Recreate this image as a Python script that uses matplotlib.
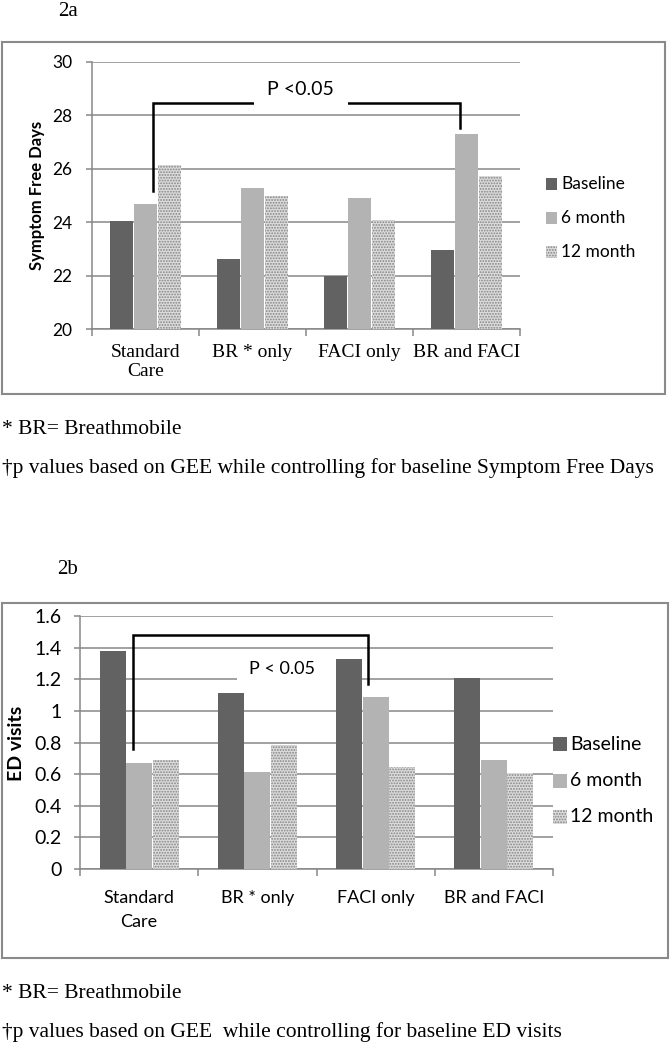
import matplotlib
matplotlib.use("Agg")
import matplotlib.pyplot as plt
from matplotlib.patches import Rectangle
import numpy as np

# ---------------- data ----------------
categories_a = ["Standard\nCare", "BR * only", "FACI only", "BR and FACI"]
categories_b = ["Standard\nCare", "BR * only", "FACI only", "BR and FACI"]
series_names = ["Baseline", "6 month", "12 month"]

sfd_baseline = [24.05, 22.61, 22.00, 22.97]
sfd_6month = [24.67, 25.29, 24.89, 27.31]
sfd_12month = [26.14, 24.99, 24.10, 25.73]

ed_baseline = [1.38, 1.115, 1.33, 1.21]
ed_6month = [0.672, 0.613, 1.09, 0.69]
ed_12month = [0.69, 0.782, 0.643, 0.605]

yticks_a = [20, 22, 24, 26, 28, 30]
yticks_b = [0, 0.2, 0.4, 0.6, 0.8, 1, 1.2, 1.4, 1.6]
ytick_labels_b = ["0", "0.2", "0.4", "0.6", "0.8", "1", "1.2", "1.4", "1.6"]

sig_text_a = "P <0.05"
sig_text_b = "P < 0.05"
footnote1 = "* BR= Breathmobile"
footnote2_a = "\u2020p values based on GEE while controlling for baseline Symptom Free Days"
footnote2_b = "\u2020p values based on GEE  while controlling for baseline ED visits"

# ---------------- styling ----------------
W, H = 671, 1050
fig = plt.figure(figsize=(W / 100, H / 100), dpi=100)
plt.rcParams["hatch.linewidth"] = 0.9

GRID = "#878787"
C_BASE = "#626262"
C_6M = "#b3b3b3"
SANS = ["Lato", "DejaVu Sans"]
SERIF = ["Liberation Serif", "DejaVu Serif"]

styles = [
    dict(color=C_BASE, edgecolor=C_BASE, linewidth=0),
    dict(color=C_6M, edgecolor=C_6M, linewidth=0),
    dict(facecolor="#dcdcdc", edgecolor="#858585", hatch="......", linewidth=0),
]


def fx(px):
    return px / W


def fy(py):
    return 1 - py / H


def make_axes(l, r, t, b):
    return fig.add_axes([fx(l), fy(b), fx(r) - fx(l), fy(t) - fy(b)])


def draw_panel(ax, series, cats, ylim, yticks, ytl, xfont, xsize, xls, ysize,
               ypad, xpad):
    x = np.arange(len(cats))
    width = 0.22
    offsets = [-0.225, 0.0, 0.225]
    for vals, off, st in zip(series, offsets, styles):
        ax.bar(x + off, np.array(vals) - ylim[0], width, bottom=ylim[0],
               zorder=3, **st)
    ax.set_xlim(-0.5, len(cats) - 0.5)
    ax.set_ylim(*ylim)
    ax.set_yticks(yticks)
    ax.set_yticklabels(ytl, fontsize=ysize, family=SANS)
    ax.yaxis.grid(True, color=GRID, linewidth=1.1, zorder=0)
    ax.set_axisbelow(True)
    for s in ["top", "right"]:
        ax.spines[s].set_visible(False)
    for s in ["left", "bottom"]:
        ax.spines[s].set_color(GRID)
        ax.spines[s].set_linewidth(1.1)
    ax.set_xticks(np.arange(-0.5, len(cats)))
    ax.set_xticklabels([])
    ax.set_xticks(x, minor=True)
    ax.set_xticklabels(cats, minor=True, fontsize=xsize, family=xfont,
                       linespacing=xls, va="top")
    ax.tick_params(axis="x", which="major", length=5, color=GRID, width=1.1)
    ax.tick_params(axis="x", which="minor", length=0, pad=xpad)
    ax.tick_params(axis="y", length=4, color=GRID, width=1.1, pad=ypad)


def bracket(ax, xl, yl, xr, yr, ytop, lw=1.8):
    ax.plot([xl, xl, xr, xr], [yl, ytop, ytop, yr], color="black",
            linewidth=lw, zorder=5, solid_joinstyle="miter")


# ---------------- frames ----------------
fig.add_artist(Rectangle((fx(2), fy(394)), fx(665) - fx(2), fy(42) - fy(394),
                         transform=fig.transFigure, fill=False,
                         edgecolor="#8a8a8a", linewidth=1.5))
fig.add_artist(Rectangle((fx(2), fy(958)), fx(668) - fx(2), fy(603) - fy(958),
                         transform=fig.transFigure, fill=False,
                         edgecolor="#8a8a8a", linewidth=1.5))

# ---------------- panel 2a ----------------
ax1 = make_axes(92, 520, 62, 329)
draw_panel(ax1, [sfd_baseline, sfd_6month, sfd_12month], categories_a,
           (20, 30), yticks_a, [str(v) for v in yticks_a], SERIF, 14, 1.1,
           12.5, 10, 11)
bracket(ax1, 0.066, 25.18, 2.937, 27.52, 28.48)
ax1.add_patch(Rectangle((1.016, 28.25), 0.874, 1.5, facecolor="white",
                        edgecolor="none", zorder=6))
ax1.text(1.446, 28.98, sig_text_a, ha="center", va="center", fontsize=14,
         family=SANS, zorder=7)
fig.text(fx(37), fy(195), "Symptom Free Days", rotation=90, ha="center",
         va="center", fontsize=12, fontweight="bold", family=SANS)
fig.text(fx(68), fy(12), "2a", ha="center", va="center", fontsize=15,
         family=SERIF)

# legend a
for i, (name, st) in enumerate(zip(series_names, styles)):
    yc = 184 + 34 * i
    fig.add_artist(Rectangle((fx(546), fy(yc + 5.5)), fx(11), 11 / H,
                             transform=fig.transFigure, **st))
    fig.text(fx(561), fy(yc), name, ha="left", va="center", fontsize=12.5,
             family=SANS)

fig.text(fx(2), fy(430), footnote1, ha="left", va="center", fontsize=15.5,
         family=SERIF)
fig.text(fx(2), fy(468), footnote2_a, ha="left", va="center", fontsize=15.5,
         family=SERIF)

# ---------------- panel 2b ----------------
ax2 = make_axes(80, 553, 616, 869)
draw_panel(ax2, [ed_baseline, ed_6month, ed_12month], categories_b,
           (0, 1.6), yticks_b, ytick_labels_b, SANS, 13, 1.6, 14, 9, 15)
bracket(ax2, -0.055, 0.762, 1.932, 1.17, 1.48)
ax2.add_patch(Rectangle((0.83, 1.15), 0.88, 0.2, facecolor="white",
                        edgecolor="none", zorder=2.5))
ax2.text(1.205, 1.267, sig_text_b, ha="center", va="center", fontsize=13,
         family=SANS, zorder=7)
fig.text(fx(17), fy(743), "ED visits", rotation=90, ha="center",
         va="center", fontsize=14, fontweight="bold", family=SANS)
fig.text(fx(68), fy(570), "2b", ha="center", va="center", fontsize=15,
         family=SERIF)

for i, (name, st) in enumerate(zip(series_names, styles)):
    yc = 744 + 36.5 * i
    fig.add_artist(Rectangle((fx(553), fy(yc + 7)), fx(14), 14 / H,
                             transform=fig.transFigure, **st))
    fig.text(fx(570), fy(yc), name, ha="left", va="center", fontsize=14,
             family=SANS)

fig.text(fx(2), fy(993), footnote1, ha="left", va="center", fontsize=15.5,
         family=SERIF)
fig.text(fx(2), fy(1032), footnote2_b, ha="left", va="center", fontsize=15.5,
         family=SERIF)

fig.savefig("out.png", dpi=100, facecolor="white")
